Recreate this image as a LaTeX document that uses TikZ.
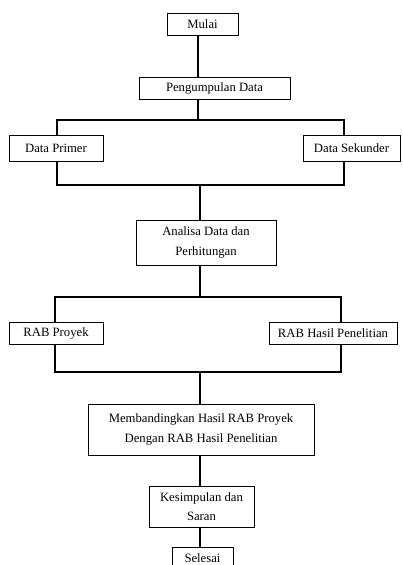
\documentclass[tikz,border=0pt]{standalone}
\usepackage{fontspec}
\setmainfont{Liberation Serif}
\usetikzlibrary{positioning,calc}

\begin{document}
\begin{tikzpicture}[x=1pt, y=-1pt,
			box/.style={rectangle, draw=black!100, line width=0.8pt, inner sep=0pt, align=center, font=\fontsize{12.7}{19.5}\selectfont},
			conn/.style={line width=1.7pt}]
			\clip (0,0) rectangle (403,565);
			\node[box, minimum width=71pt, minimum height=22pt] (mulai) at (202.5,24) {Mulai};
			\node[box, minimum width=151pt, minimum height=22pt] (kumpul) at (214.5,88) {Pengumpulan Data};
			\node[box, minimum width=94pt, minimum height=26pt] (primer) at (56,148) {Data Primer};
			\node[box, minimum width=97pt, minimum height=26pt] (sekunder) at (351.5,148) {Data Sekunder};
			\node[box, minimum width=140pt, minimum height=45pt] (analisa) at (206,242.5) {Analisa Data dan\\Perhitungan};
			\node[box, minimum width=94pt, minimum height=22pt] (proyek) at (56,333) {RAB Proyek};
			\node[box, minimum width=128pt, minimum height=22pt] (hasil) at (333,333) {RAB Hasil Penelitian};
			\node[box, minimum width=226pt, minimum height=51pt] (banding) at (201,429.5) {Membandingkan Hasil RAB Proyek\\Dengan RAB Hasil Penelitian};
			\node[box, minimum width=105pt, minimum height=41pt] (kesimpulan) at (201.5,506.5) {Kesimpulan dan\\Saran};
			\node[box, minimum width=61pt, minimum height=22pt] (selesai) at (202.5,558) {Selesai};
			\coordinate (splitA) at (198,120);
			\coordinate (joinA) at (200,185);
			\coordinate (splitB) at (200,297);
			\coordinate (joinB) at (200,372);
			\draw[conn] (mulai.south -| splitA) -- (kumpul.north -| splitA);
			\draw[conn] (kumpul.south -| splitA) -- (splitA);
			\draw[conn] ([xshift=1pt]primer.north) |- (splitA) -| ([xshift=-7.5pt]sekunder.north);
			\draw[conn] ([xshift=1pt]primer.south) |- (joinA) -| ([xshift=-7.5pt]sekunder.south);
			\draw[conn] (joinA) -- (analisa.north -| joinA);
			\draw[conn] (analisa.south -| splitB) -- (splitB);
			\draw[conn] ([xshift=-1pt]proyek.north) |- (splitB) -| ([xshift=8pt]hasil.north);
			\draw[conn] ([xshift=-1pt]proyek.south) |- (joinB) -| ([xshift=8pt]hasil.south);
			\draw[conn] (joinB) -- (banding.north -| joinB);
			\draw[conn] (banding.south -| joinB) -- (kesimpulan.north -| joinB);
			\draw[conn] (kesimpulan.south -| joinB) -- (selesai.north -| joinB);
		\end{tikzpicture}
\end{document}
